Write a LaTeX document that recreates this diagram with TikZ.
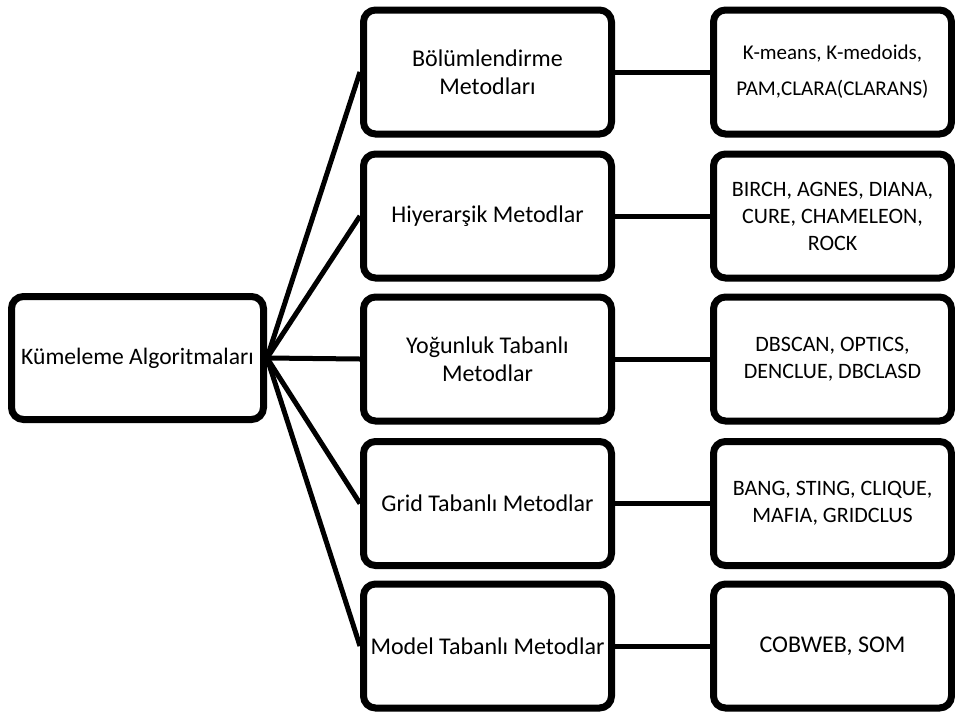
\documentclass[tikz,border=0pt]{standalone}
\usepackage{fontspec}
\setmainfont{Carlito}
\usetikzlibrary{shadows}
\begin{document}
\begin{tikzpicture}[x=1pt,y=-1pt,
  box/.style={draw=black, line width=7pt, rounded corners=12pt, fill=white,
    align=center, inner sep=0pt, font=\fontsize{24}{28}\selectfont,
    drop shadow={shadow xshift=2pt, shadow yshift=-3pt, opacity=0.3, fill=black!60}},
  rootbox/.style={box, minimum width=252pt, minimum height=123pt},
  midbox/.style={box, minimum width=248pt, minimum height=124pt},
  leafbox/.style={box, minimum width=238pt, minimum height=124pt},
  widetext/.style={font=\fontsize{21}{36}\selectfont},
  densetext/.style={font=\fontsize{22}{27}\selectfont},
  link/.style={line width=5pt}]
\useasboundingbox (0,0) rectangle (955,713);

% root of the classification
\node[rootbox, font=\fontsize{23.6}{28}\selectfont] (root) at (137.5,358) {Kümeleme Algoritmaları};

% method families
\node[midbox] (m1) at (487.5,72)  {Bölümlendirme\\Metodları};
\node[midbox] (m2) at (487.5,216) {Hiyerarşik Metodlar};
\node[midbox] (m3) at (487.5,359) {Yoğunluk Tabanlı\\Metodlar};
\node[midbox] (m4) at (487.5,503.5) {Grid Tabanlı Metodlar};
\node[midbox] (m5) at (487.5,646) {Model Tabanlı Metodlar};

% example algorithms of each family
\node[leafbox, widetext] (l1) at (832.5,72)  {K-means, K-medoids,\\PAM,CLARA(CLARANS)};
\node[leafbox, densetext] (l2) at (832.5,216) {BIRCH, AGNES, DIANA,\\CURE, CHAMELEON,\\ROCK};
\node[leafbox, densetext] (l3) at (832.5,359) {DBSCAN, OPTICS,\\DENCLUE, DBCLASD};
\node[leafbox, densetext] (l4) at (832.5,503.5) {BANG, STING, CLIQUE,\\MAFIA, GRIDCLUS};
\node[leafbox] (l5) at (832.5,646) {COBWEB, SOM};

% connectors
\foreach \m in {m1,m2,m3,m4,m5}
  \draw[link] (root.east) -- (\m.west);
\foreach \m/\l in {m1/l1,m2/l2,m3/l3,m4/l4,m5/l5}
  \draw[link] (\m.east) -- (\l.west);
\end{tikzpicture}
\end{document}
